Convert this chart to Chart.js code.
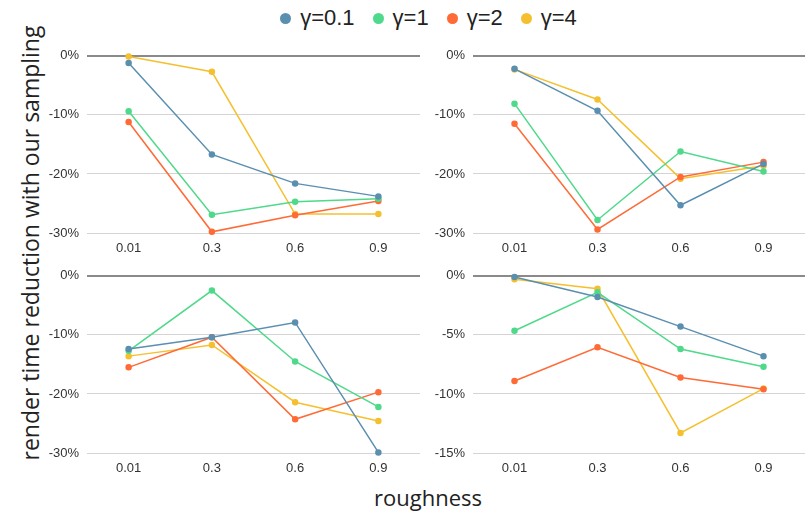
<!DOCTYPE html>
<html>
<head>
<meta charset="utf-8">
<script src="https://cdn.jsdelivr.net/npm/chart.js@4/dist/chart.umd.min.js"></script>
<style>
  html, body { margin: 0; padding: 0; background: #fff; }
  body { width: 811px; height: 513px; position: relative; overflow: hidden; }
  canvas { position: absolute; }
  #legend { position: absolute; top: 5px; left: 0; width: 857px; display: flex; justify-content: center; align-items: center;
    font-family: "Liberation Sans", Arial, sans-serif; font-size: 22px; color: #222; }
  .item { display: flex; align-items: center; margin: 0 9px; }
  .dot { width: 11px; height: 11px; border-radius: 50%; margin-right: 9px; }
  #ytitle { position: absolute; left: 30px; top: 243px; transform: translate(-50%, -50%) rotate(-90deg);
    white-space: nowrap; font-family: "Open Sans", sans-serif; font-size: 23px; color: #222; }
  #xtitle { position: absolute; left: 428px; top: 497px; transform: translate(-50%, -50%);
    white-space: nowrap; font-family: "Open Sans", sans-serif; font-size: 22px; color: #222; }
</style>
</head>
<body>
<div id="legend"></div>
<div id="ytitle">render time reduction with our sampling</div>
<div id="xtitle">roughness</div>
<canvas id="c0" width="384" height="223" style="left:40px;top:40px"></canvas>
<canvas id="c1" width="383" height="223" style="left:426px;top:40px"></canvas>
<canvas id="c2" width="384" height="223" style="left:40px;top:260px"></canvas>
<canvas id="c3" width="383" height="223" style="left:426px;top:260px"></canvas>
<script>
// ---- data ----
const categories = ["0.01", "0.3", "0.6", "0.9"];
const seriesNames = ["γ=0.1", "γ=1", "γ=2", "γ=4"];
const seriesColors = ["#5a8fb0", "#4fd98a", "#ff6a36", "#f5c030"];

// panel 1 (top-left)
const p1_g01 = [-1.2, -16.7, -21.6, -23.8];
const p1_g1  = [-9.4, -26.9, -24.7, -24.2];
const p1_g2  = [-11.2, -29.8, -27.0, -24.6];
const p1_g4  = [-0.1, -2.7, -26.8, -26.8];
// panel 2 (top-right)
const p2_g01 = [-2.2, -9.3, -25.3, -18.3];
const p2_g1  = [-8.1, -27.8, -16.2, -19.6];
const p2_g2  = [-11.5, -29.4, -20.5, -18.0];
const p2_g4  = [-2.3, -7.4, -20.8, -18.6];
// panel 3 (bottom-left)
const p3_g01 = [-12.4, -10.4, -7.9, -29.9];
const p3_g1  = [-12.7, -2.5, -14.5, -22.2];
const p3_g2  = [-15.5, -10.4, -24.3, -19.7];
const p3_g4  = [-13.6, -11.7, -21.4, -24.6];
// panel 4 (bottom-right)
const p4_g01 = [-0.1, -1.8, -4.3, -6.8];
const p4_g1  = [-4.65, -1.4, -6.2, -7.7];
const p4_g2  = [-8.9, -6.05, -8.6, -9.6];
const p4_g4  = [-0.3, -1.1, -13.3, -9.55];

const yMin1 = -30, yStep1 = 10;
const yMin2 = -15, yStep2 = 5;

// ---- legend ----
const leg = document.getElementById('legend');
seriesNames.forEach((n, i) => {
  const it = document.createElement('div'); it.className = 'item';
  const d = document.createElement('div'); d.className = 'dot'; d.style.background = seriesColors[i];
  const t = document.createElement('span'); t.textContent = n;
  it.appendChild(d); it.appendChild(t); leg.appendChild(it);
});

function makeChart(id, series, yMin, yStep) {
  new Chart(document.getElementById(id), {
    type: 'line',
    data: {
      labels: categories,
      datasets: series.map((s, i) => ({
        label: seriesNames[i], data: s,
        borderColor: seriesColors[i], backgroundColor: seriesColors[i],
        borderWidth: 1.5, pointRadius: 2.5, pointHoverRadius: 2.5,
        tension: 0, clip: false
      }))
    },
    options: {
      responsive: false, animation: false, devicePixelRatio: 1,
      layout: { padding: { top: 10, right: 0, left: 0, bottom: 0 } },
      plugins: { legend: { display: false }, tooltip: { enabled: false } },
      scales: {
        x: {
          offset: true,
          grid: { display: false, drawTicks: false },
          border: { display: false },
          ticks: { padding: 8, color: '#333', font: { family: 'Liberation Sans', size: 13 } },
          afterFit: s => { s.height = 30; }
        },
        y: {
          min: yMin, max: 0,
          ticks: { stepSize: yStep, padding: 8, color: '#333', font: { family: 'Liberation Sans', size: 13 },
            callback: v => v + '%' },
          grid: { drawTicks: false,
            color: c => c.tick && c.tick.value === 0 ? '#8a8a8a' : '#d4d4d4',
            lineWidth: c => c.tick && c.tick.value === 0 ? 2 : 1 },
          border: { display: false },
          afterFit: s => { s.width = 47; }
        }
      }
    }
  });
}

makeChart('c0', [p1_g01, p1_g1, p1_g2, p1_g4], yMin1, yStep1);
makeChart('c1', [p2_g01, p2_g1, p2_g2, p2_g4], yMin1, yStep1);
makeChart('c2', [p3_g01, p3_g1, p3_g2, p3_g4], yMin1, yStep1);
makeChart('c3', [p4_g01, p4_g1, p4_g2, p4_g4], yMin2, yStep2);
</script>
</body>
</html>
